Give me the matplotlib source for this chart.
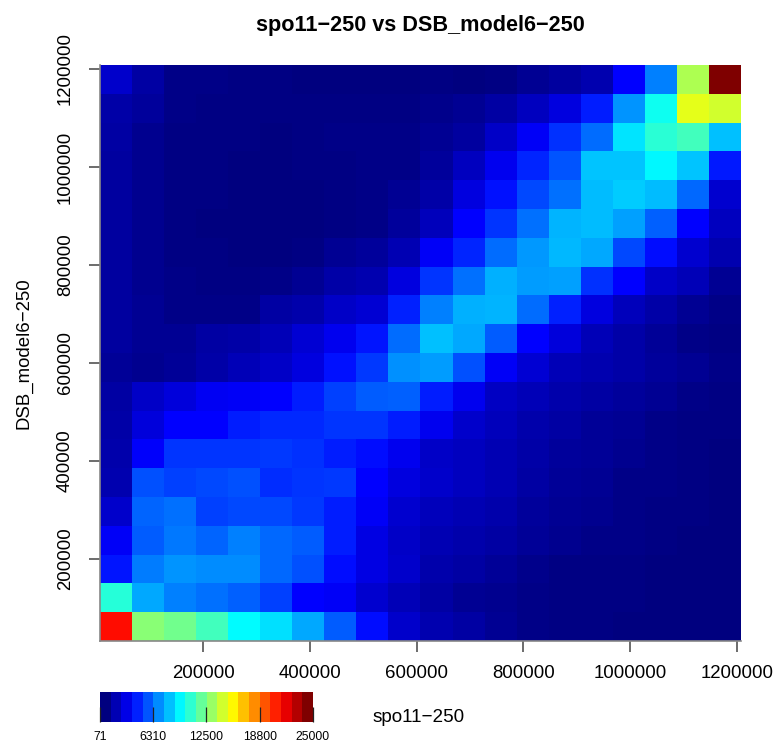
import numpy as np
import matplotlib.pyplot as plt
from matplotlib.colors import LinearSegmentedColormap, Normalize

plt.rcParams['font.family'] = ['Liberation Sans', 'DejaVu Sans']

# counts per bin, first row is the top of the plot (y = 1200000)
counts = [
    [2000, 1000, 350, 300, 250, 200, 150, 120, 120, 120, 250, 150, 250, 600, 900, 1300, 3190, 6400, 13700, 25000],
    [1050, 850, 300, 250, 250, 200, 200, 250, 250, 250, 450, 600, 1000, 1650, 2500, 3900, 6800, 9800, 15000, 14500],
    [950, 500, 250, 200, 200, 150, 250, 300, 300, 350, 600, 900, 1850, 3000, 4400, 5900, 8800, 10400, 11000, 7900],
    [900, 500, 250, 200, 150, 150, 200, 250, 300, 350, 800, 1650, 2800, 4100, 5300, 8000, 8000, 9300, 8000, 3800],
    [900, 500, 250, 200, 150, 120, 150, 200, 300, 600, 1050, 2500, 3600, 5000, 6000, 7800, 8200, 7800, 5800, 2100],
    [900, 500, 200, 150, 120, 120, 150, 200, 300, 800, 1550, 3200, 4500, 6000, 7600, 7800, 7100, 5600, 3190, 1700],
    [900, 500, 250, 200, 150, 150, 250, 600, 800, 1350, 3000, 4100, 5900, 6900, 7700, 7300, 5000, 3500, 2100, 1300],
    [900, 550, 300, 250, 250, 300, 600, 1100, 1300, 2500, 4500, 6000, 7500, 7000, 7100, 4400, 3190, 1850, 1450, 600],
    [900, 650, 350, 300, 350, 950, 1200, 1900, 2200, 4000, 6400, 7500, 7600, 5900, 4000, 2500, 1550, 1100, 600, 350],
    [900, 650, 650, 950, 1100, 1500, 2200, 2800, 3700, 5900, 7900, 7300, 5500, 3190, 2400, 1450, 1050, 700, 350, 250],
    [700, 500, 700, 1100, 1500, 1900, 2500, 3600, 4600, 6700, 7000, 5200, 3000, 2200, 1450, 1250, 1050, 800, 600, 350],
    [1000, 1900, 2400, 2900, 3000, 3190, 3900, 4800, 5500, 5600, 3900, 2800, 1750, 1450, 1150, 950, 800, 600, 350, 250],
    [1100, 2400, 3190, 3190, 3900, 4200, 4200, 4500, 4500, 3900, 2800, 1950, 1550, 1150, 950, 700, 600, 350, 250, 200],
    [1200, 3100, 4500, 4500, 4500, 4600, 4400, 3900, 3500, 2800, 1850, 1650, 1350, 1050, 800, 700, 500, 350, 250, 120],
    [1300, 5200, 4800, 5000, 5200, 4300, 4500, 4600, 3190, 2500, 1950, 1650, 1350, 950, 700, 600, 350, 300, 200, 120],
    [1950, 5700, 6000, 4800, 5000, 5000, 4600, 3900, 3000, 2100, 1550, 1350, 1150, 800, 600, 500, 350, 250, 200, 120],
    [3000, 5500, 6200, 5700, 6400, 5800, 5500, 3900, 2600, 1850, 1350, 1150, 950, 700, 500, 350, 300, 250, 150, 120],
    [3700, 6300, 6800, 6600, 6600, 5800, 5200, 3500, 2600, 1950, 1150, 950, 700, 400, 250, 250, 200, 150, 120, 100],
    [10300, 7300, 6400, 6000, 5600, 4800, 3190, 3000, 2100, 1450, 950, 600, 500, 350, 250, 200, 200, 120, 100, 100],
    [21500, 12800, 12200, 11000, 9400, 8700, 7300, 5500, 3500, 1950, 1250, 950, 600, 350, 250, 200, 150, 120, 100, 71],
]
x_ticks = [200000, 400000, 600000, 800000, 1000000, 1200000]
y_ticks = [200000, 400000, 600000, 800000, 1000000, 1200000]
x_range = [6300, 1208000]
y_range = [32600, 1208000]
legend_ticks = [71, 6310, 12500, 18800, 25000]
n_legend = 20
jet_colors = ['#00007F', 'blue', '#007FFF', 'cyan', '#7FFF7F', 'yellow', '#FF7F00', 'red', '#7F0000']

W, H = 774, 743
fig = plt.figure(figsize=(W / 100, H / 100), dpi=100)
ax = fig.add_axes([100 / W, 1 - 641 / H, 641 / W, 576 / H])
cmap = LinearSegmentedColormap.from_list('jet_r_style', jet_colors, N=256)

x_edges = np.linspace(x_range[0], x_range[1], len(counts[0]) + 1)
y_edges = np.linspace(y_range[0], y_range[1], len(counts) + 1)
z = np.array(counts)[::-1]
vmin, vmax = legend_ticks[0], legend_ticks[-1]
ax.pcolormesh(x_edges, y_edges, z, cmap=cmap, norm=Normalize(vmin, vmax), linewidth=0, antialiased=False)
ax.set_xlim(x_range)
ax.set_ylim(y_range)

ax.set_xticks(x_ticks)
ax.set_xticklabels([str(t) for t in x_ticks])
ax.set_yticks(y_ticks)
ax.set_yticklabels([str(t) for t in y_ticks], rotation=90, va='center')
ax.tick_params(length=8, width=1.1, color='#444444', labelsize=13.4)
ax.tick_params(axis='x', pad=9.4)
ax.tick_params(axis='y', pad=10.7)
ax.spines['top'].set_visible(False)
ax.spines['right'].set_visible(False)
ax.spines['left'].set_color('#888888')
ax.spines['bottom'].set_color('#888888')
ax.spines['left'].set_linewidth(1.2)
ax.spines['bottom'].set_linewidth(1.2)

ax.set_ylabel('DSB_model6\u2212250', fontsize=13.4)
ax.yaxis.set_label_coords(-67 / 641, 0.5)
fig.text(420 / W, 1 - 26 / H, 'spo11\u2212250 vs DSB_model6\u2212250', fontsize=15.6, fontweight='bold', ha='center', va='center')

# legend strip below the plot
cax = fig.add_axes([100 / W, 1 - 721.5 / H, 213 / W, 29.5 / H])
legend_bounds = np.linspace(vmin, vmax, n_legend + 1)
legend_vals = np.linspace(vmin, vmax, n_legend)
cax.pcolormesh(legend_bounds, [0, 1], legend_vals[np.newaxis, :], cmap=cmap, norm=Normalize(vmin, vmax),
               linewidth=0, antialiased=False)
cax.set_xlim(vmin, vmax)
cax.set_yticks([])
for s in cax.spines.values():
    s.set_visible(False)
cax.set_xticks(legend_ticks)
cax.set_xticklabels([str(t) for t in legend_ticks])
cax.tick_params(axis='x', direction='in', length=11, width=0.9, color='#222222', labelsize=8.8, pad=7)
fig.text(373 / W, 1 - 718 / H, 'spo11\u2212250', fontsize=13.6, ha='left', va='center')

plt.savefig('out.png', dpi=100)
